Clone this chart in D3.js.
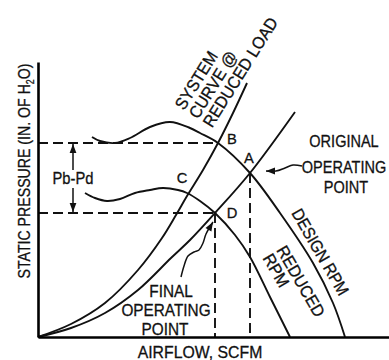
<!DOCTYPE html>
<meta charset="utf-8">
<script src="https://d3js.org/d3.v7.min.js"></script>
<style>
  body { margin: 0; background: #fff; }
  text { font-family: "Liberation Sans", Arial, sans-serif; fill: #111; stroke: #111; stroke-width: 0.3px; }
</style>
<div id="chart"></div>
<script>
  // curves: [airflow, static pressure], arbitrary units from the origin
  var designRpm = [[54,200],[62,196],[77,194],[92,199],[112,210],[132,215],[152,209],[162,204],
    [180,194],[212,164],[242,124],[275,74],[295,34],[307,0]];
  var reducedRpm = [[47,144],[57,139],[69,136],[82,138],[97,144],[112,147],[125,149],[140,147],
    [149,144],[162,136],[177,124],[197,102],[212,80],[232,40],[252,0]];
  var originalSystem = [[0,0],[33,9],[67,24],[100,47],[133,79],[152,97],[177,124],[212,164],[257,225]];
  var reducedSystem = [[0,0],[33,13],[67,34],[100,67],[124,99],[138,122],[149,141],[165,167],
    [180,194],[195,224],[209,254]];
  // operating points
  var pointNames = ["A", "B", "C", "D"];
  var pointValues = [[212,164],[180,194],[149,144],[177,124]];

  var width = 389, height = 360;
  var svg = d3.select("#chart").append("svg")
    .attr("width", width)
    .attr("height", height);

  var x = d3.scaleLinear().domain([0, 351]).range([38, 389]);
  var y = d3.scaleLinear().domain([0, 275]).range([337, 62]);

  var pts = {};
  pointNames.forEach(function (n, i) { pts[n] = pointValues[i]; });

  // dashed guide lines
  var dash = svg.append("g")
    .attr("stroke", "#111")
    .attr("stroke-width", 1.9)
    .attr("stroke-dasharray", "10,5")
    .attr("fill", "none");
  [["B", "h"], ["D", "h"], ["D", "v"], ["A", "v"]].forEach(function (g) {
    var p = pts[g[0]];
    if (g[1] == "h") {
      dash.append("line").attr("x1", x(0)).attr("x2", x(p[0]))
        .attr("y1", y(p[1])).attr("y2", y(p[1]));
    } else {
      dash.append("line").attr("x1", x(p[0])).attr("x2", x(p[0]))
        .attr("y1", y(p[1])).attr("y2", y(0));
    }
  });

  // curves
  var line = d3.line()
    .x(function (d) { return x(d[0]); })
    .y(function (d) { return y(d[1]); })
    .curve(d3.curveCatmullRom.alpha(0.5));
  [designRpm, reducedRpm, originalSystem, reducedSystem].forEach(function (c) {
    svg.append("path")
      .attr("d", line(c))
      .attr("fill", "none")
      .attr("stroke", "#111")
      .attr("stroke-width", 1.9);
  });

  // axes (no ticks)
  svg.append("g")
    .attr("transform", "translate(0," + y(0) + ")")
    .call(d3.axisBottom(x).tickValues([]).tickSizeOuter(0))
    .select(".domain").attr("stroke-width", 2.6);
  svg.append("g")
    .attr("transform", "translate(" + x(0) + ",0)")
    .call(d3.axisLeft(y).tickValues([]).tickSizeOuter(0))
    .select(".domain").attr("stroke-width", 2.6);

  // text helper
  function label(lines, px, py, size, opts) {
    opts = opts || {};
    var g = svg.append("g")
      .attr("transform", "translate(" + px + "," + py + ") rotate(" + (opts.rotate || 0) + ") scale(" + (opts.sx || 0.9) + ",1)");
    lines.forEach(function (t, i) {
      g.append("text")
        .attr("x", 0)
        .attr("y", i * (opts.lh || 18))
        .attr("text-anchor", opts.anchor || "start")
        .style("font-size", size + "px")
        .text(t);
    });
    return g;
  }

  function arrow(path, tip) {
    var last = path[path.length - 1];
    svg.append("path")
      .attr("d", d3.line().curve(d3.curveCatmullRom)(path.concat([tip])))
      .attr("fill", "none").attr("stroke", "#111").attr("stroke-width", 1.5);
    var a = Math.atan2(tip[1] - last[1], tip[0] - last[0]);
    var L = 9, W = 3.4;
    var bx = tip[0] - L * Math.cos(a), by = tip[1] - L * Math.sin(a);
    svg.append("path")
      .attr("d", "M" + tip[0] + "," + tip[1] +
        "L" + (bx - W * Math.sin(a)) + "," + (by + W * Math.cos(a)) +
        "L" + (bx + W * Math.sin(a)) + "," + (by - W * Math.cos(a)) + "Z")
      .attr("fill", "#111");
  }

  // point letters
  var letterPos = { A: [-1, -10], B: [14, 1], C: [-5, -10], D: [17, 5] };
  pointNames.forEach(function (n) {
    label([n], x(pts[n][0]) + letterPos[n][0], y(pts[n][1]) + letterPos[n][1], 15.5, { anchor: "middle", sx: 0.95 });
  });

  // axis titles
  var yt = svg.append("text")
    .attr("transform", "translate(29.5,171) rotate(-90) scale(0.885,1)")
    .attr("text-anchor", "middle")
    .style("font-size", "16px");
  yt.append("tspan").text("STATIC PRESSURE (IN. OF H");
  yt.append("tspan").attr("dy", 4).style("font-size", "10px").text("2");
  yt.append("tspan").attr("dy", -4).text("O)");
  label(["AIRFLOW, SCFM"], 200, 358, 17, { anchor: "middle", sx: 0.93 });

  // Pb-Pd
  var bx0 = 73;
  arrow([[bx0, 170]], [bx0, y(pts.B[1]) + 1]);
  arrow([[bx0, 188]], [bx0, y(pts.D[1]) - 1]);
  label(["Pb-Pd"], bx0, 184, 16, { anchor: "middle", sx: 0.92 });

  // curve labels
  label(["SYSTEM", "CURVE @", "REDUCED LOAD"], 184, 111, 17, { rotate: -58, sx: 0.93, lh: 16.5 });
  label(["DESIGN RPM"], 291, 213, 17, { rotate: 60, sx: 0.9 });
  label(["REDUCED", "RPM"], 276, 250, 17, { rotate: 60, sx: 0.94, lh: 16 });

  // operating point notes
  label(["ORIGINAL"], 344, 147, 16.5, { anchor: "middle", sx: 0.88 });
  label(["OPERATING"], 344, 173, 16.5, { anchor: "middle", sx: 0.88 });
  label(["POINT"], 346, 193, 16.5, { anchor: "middle", sx: 0.88 });
  arrow([[302, 166], [293, 165], [285, 168], [276, 171]], [x(pts.A[0]) + 16, y(pts.A[1]) - 2]);

  label(["FINAL"], 171, 297, 16.5, { anchor: "middle", sx: 0.93 });
  label(["OPERATING"], 166, 316, 16.5, { anchor: "middle", sx: 0.93 });
  label(["POINT"], 165, 335, 16.5, { anchor: "middle", sx: 0.93 });
  arrow([[181, 277], [184, 266], [188, 256], [194, 252], [199, 250], [203, 243], [206, 234]],
    [x(pts.D[0]) - 2, y(pts.D[1]) + 9]);
</script>
